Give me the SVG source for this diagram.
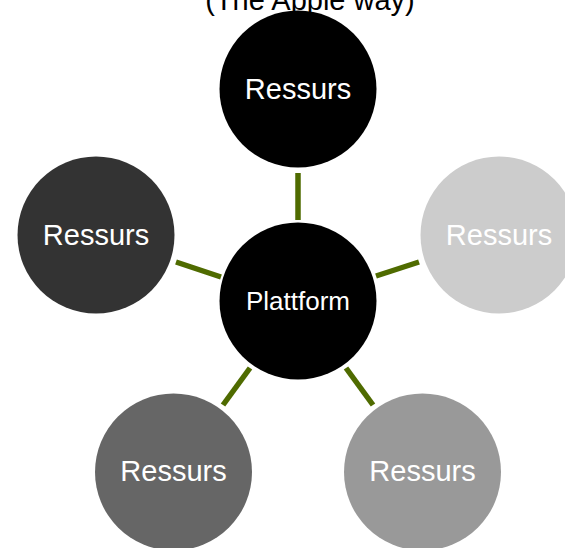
<svg xmlns="http://www.w3.org/2000/svg" width="565" height="548" viewBox="0 0 565 548">
<style>
.lbl{font-family:"Liberation Sans",Arial,sans-serif;fill:#ffffff;text-anchor:middle}
.res{font-size:29px}
.title{font-family:"Liberation Sans",Arial,sans-serif;font-size:29px;fill:#000000;text-anchor:middle}
.conn{stroke:#4f6b00;stroke-width:5.5;fill:none}
</style>
<rect width="565" height="548" fill="#ffffff"/>
<text class="title" x="310" y="10">(The Apple way)</text>
<g id="connectors">
<line class="conn" x1="298" y1="173" x2="298" y2="220"/>
<line class="conn" x1="176" y1="262" x2="221" y2="277"/>
<line class="conn" x1="376" y1="276" x2="419" y2="262"/>
<line class="conn" x1="250" y1="368" x2="223" y2="405"/>
<line class="conn" x1="346" y1="368" x2="373" y2="405"/>
</g>
<g id="center">
<circle cx="298" cy="301" r="78.5" fill="#000000"/>
<text class="lbl" x="298" y="310" font-size="26">Plattform</text>
</g>
<g id="top">
<circle cx="298" cy="89" r="78.5" fill="#000000"/>
<text class="lbl res" x="298" y="99">Ressurs</text>
</g>
<g id="left">
<circle cx="96" cy="235" r="78.5" fill="#333333"/>
<text class="lbl res" x="96" y="245">Ressurs</text>
</g>
<g id="right">
<circle cx="499" cy="235" r="78.5" fill="#cccccc"/>
<text class="lbl res" x="499" y="244.5">Ressurs</text>
</g>
<g id="bottom-left">
<circle cx="173.5" cy="472" r="78.5" fill="#666666"/>
<text class="lbl res" x="173.5" y="481">Ressurs</text>
</g>
<g id="bottom-right">
<circle cx="422.5" cy="472" r="78.5" fill="#999999"/>
<text class="lbl res" x="422.5" y="481">Ressurs</text>
</g>
</svg>
